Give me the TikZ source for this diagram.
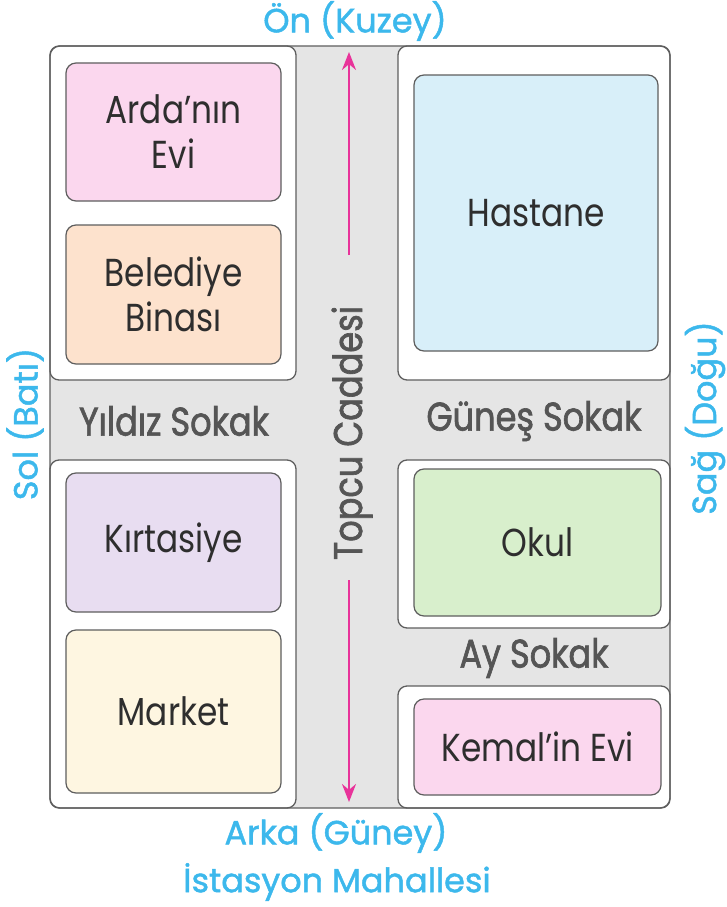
\documentclass[tikz,border=0pt]{standalone}
\usepackage{fontspec}
\setmainfont{Poppins}
\newfontfamily\placefont{Poppins}[FakeStretch=0.84]
\newfontfamily\streetfont{Poppins}[FakeStretch=0.84,FakeBold=1.6]
\newfontfamily\compassfont{Poppins}[FakeBold=1.4]
\usetikzlibrary{arrows.meta}
\tikzset{>={Stealth[length=18pt,width=14pt]}}
\definecolor{roadgray}{HTML}{E5E5E5}
\definecolor{edgegray}{HTML}{5E5E5E}
\definecolor{labeltext}{HTML}{2E2E2E}
\definecolor{streettext}{HTML}{555555}
\definecolor{compasscyan}{HTML}{3CB8EC}
\definecolor{arrowpink}{HTML}{E8339A}
\definecolor{pinkbox}{HTML}{FBD7EE}
\definecolor{peachbox}{HTML}{FDE2CD}
\definecolor{bluebox}{HTML}{D8EFF9}
\definecolor{lilacbox}{HTML}{E8DDF1}
\definecolor{creambox}{HTML}{FEF6E1}
\definecolor{greenbox}{HTML}{D8EFCC}
\tikzset{
  block/.style={fill=white,draw=edgegray,line width=1.3pt,rounded corners=9pt},
  place/.style={draw=edgegray,line width=1.2pt,rounded corners=10pt,text=labeltext,
    font=\placefont\fontsize{39}{45}\selectfont,align=center,inner sep=0pt},
  street/.style={text=streettext,font=\streetfont\fontsize{40}{44}\selectfont},
  compass/.style={text=compasscyan,font=\compassfont\fontsize{33.5}{38}\selectfont,inner sep=0pt},
}
\begin{document}
\begin{tikzpicture}[x=1pt,y=-1pt]
\useasboundingbox (0,0) rectangle (727,907);
% roads and blocks
\fill[roadgray,rounded corners=10pt] (50,46) rectangle (670,808);
\draw[block] (50,46) rectangle (296,380);
\draw[block] (50,460) rectangle (296,808);
\draw[block] (398,46) rectangle (670,380);
\draw[block] (398,460) rectangle (670,628);
\draw[block] (398,686) rectangle (670,808);
\draw[edgegray,line width=1.3pt,rounded corners=10pt] (50,46) rectangle (670,808);
% places
\node[place,fill=pinkbox,minimum width=215pt,minimum height=138pt] (arda) at (173.5,132) {Arda’nın\\Evi};
\node[place,fill=peachbox,minimum width=215pt,minimum height=139pt] (belediye) at (173.5,294.5) {Belediye\\Binası};
\node[place,fill=bluebox,minimum width=244pt,minimum height=276pt] (hastane) at (536,213) {Hastane};
\node[place,fill=lilacbox,minimum width=215pt,minimum height=139pt] (kirtasiye) at (173.5,542.5) {Kırtasiye};
\node[place,fill=creambox,minimum width=215pt,minimum height=163pt] (market) at (173.5,711.5) {Market};
\node[place,fill=greenbox,minimum width=247pt,minimum height=147pt] (okul) at (537.5,542.5) {Okul};
\node[place,fill=pinkbox,minimum width=247pt,minimum height=96pt] (kemal) at (537.5,747) {Kemal’in Evi};
% streets
\node[street] (yildiz) at (174,421) {Yıldız Sokak};
\node[street] (gunes) at (534,421) {Güneş Sokak};
\node[street] (ay) at (534,658) {Ay Sokak};
\node[street,rotate=90] (topcu) at (352,433) {Topcu Caddesi};
% arrows
\coordinate (ntail) at (349,255);
\coordinate (ntip) at (349,52);
\coordinate (stail) at (349,580);
\coordinate (stip) at (349,802);
\draw[->,arrowpink,line width=2.2pt] (ntail) -- (ntip);
\draw[->,arrowpink,line width=2.2pt] (stail) -- (stip);
% directions
\node[compass] (on) at (355,21) {Ön (Kuzey)};
\node[compass] (arka) at (336,833) {Arka (Güney)};
\node[compass] (istasyon) at (337,882) {İstasyon Mahallesi};
\node[compass,rotate=90] (sol) at (25,424) {Sol (Batı)};
\node[compass,rotate=90] (sag) at (705,418) {Sağ (Doğu)};
\end{tikzpicture}
\end{document}
